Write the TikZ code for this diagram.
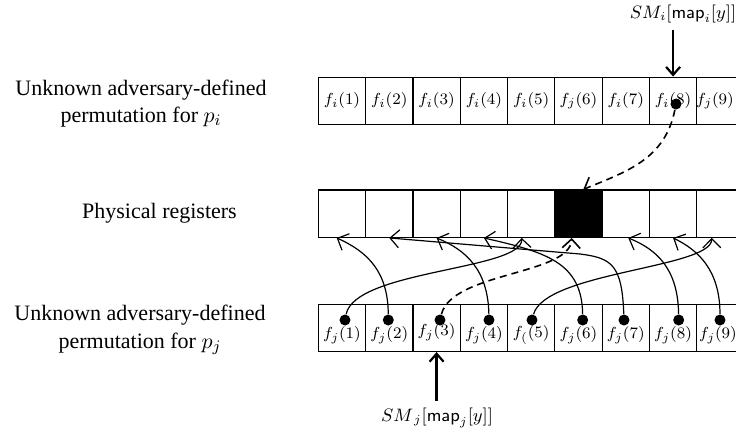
\documentclass[tikz,border=0pt]{standalone}
\usepackage[no-math]{fontspec}
\setmainfont{Liberation Serif}
\usetikzlibrary{arrows.meta}

\begin{document}
\begin{tikzpicture}[x=0.5pt,y=-0.5pt,
  cell/.style={draw,semithick,minimum width=23.65pt,minimum height=23.65pt,inner sep=0pt},
  entry/.style={font=\footnotesize,inner sep=1pt},
  dot/.style={circle,fill=black,inner sep=0pt,minimum size=5.5pt},
  link/.style={-{Straight Barb[length=4.5pt,width=9pt]},line width=0.6pt},
  hidden/.style={link,line width=0.8pt,dash pattern=on 3.5pt off 2.5pt},
  pointer/.style={-{Straight Barb[length=4pt,width=7pt]},line width=1.1pt},
  side/.style={align=center,font=\fontsize{11}{13.6}\selectfont}]
% define variables
\pgfmathparse{47.3}\let\w=\pgfmathresult
\useasboundingbox (0,0) rectangle (736,434);

% text on the left
\node[side] (permi) at (141,103.3) {Unknown adversary-defined\\ permutation for $p_i$};
\node[side] (phys) at (159.5,213.3) {Physical registers};
\node[side] (permj) at (140,330) {Unknown adversary-defined\\ permutation for $p_j$};

% draw the three rows
\foreach \i in {1,...,9}{
	\node[cell] (top\i) at ({342+\w*(\i-1)},100.8) {};
	\node[cell] (reg\i) at ({342+\w*(\i-1)},213.7) {};
	\node[cell] (bot\i) at ({342+\w*(\i-1)},327.8) {};
}
\fill (reg6.north west) rectangle (reg6.south east);

% labels of the upper row
\foreach \i/\s in {1/i,2/i,3/i,4/i,5/i,6/j,7/i,8/i}{
	\node[entry] (ltop\i) at ({342+\w*(\i-1)},100.8) {$f_\s(\i)$};
}
\node[entry] (ltop9) at (715,100.8) {$f_j(9)$};

% labels of the lower row
\foreach \i in {1,2,4,6,7,8}{
	\node[entry] (lab\i) at ({342+\w*(\i-1)},335) {$f_j(\i)$};
}
\node[entry] (lab3) at (436.6,332.3) {$f_j(3)$};
\node[entry] (lab5) at (531.2,335) {$f_{(}(5)$};
\node[entry] (lab9) at (718,335) {$f_j(9)$};

% dots
\foreach \i/\x in {1/345,2/388.3,3/440,4/489,5/532,6/582.7,7/624,8/678.7,9/720}{
	\node[dot] (d\i) at (\x,320) {};
}
\node[dot] (di8) at (676,104) {};

% pointers from the slot maps
\node[font=\small] (smi) at (683,14) {$SM_i[\textsf{map}_i[y]]$};
\node[font=\small] (smj) at (437,418) {$SM_{\,j}[\textsf{map}_j[y]]$};
\draw[pointer] (smi.south -| top8) -- (top8.north);
\draw[pointer] (smj.north -| bot3) -- (bot3.south);

% permutation links
\draw[hidden] (di8) .. controls (665,160) and (625,172) .. ([xshift=2.4pt]reg6.north);
\draw[link] (d1) .. controls (355,270) and (523,270) .. ([xshift=-4.75pt]reg5.south);
\draw[link] (d2) .. controls (388,272) and (368,252) .. ([xshift=-2.65pt]reg1.south);
\draw[hidden] (d3) .. controls (452,272) and (570,275) .. ([xshift=-3.4pt]reg6.south);
\draw[link] (d4) .. controls (488,270) and (466,250) .. (reg3.south);
\draw[link] (d5) .. controls (545,272) and (712,268) .. ([xshift=-4.35pt]reg9.south);
\draw[link] (d6) .. controls (582,262) and (545,252) .. (reg4.south);
\draw[link] (d7) .. controls (622,265) and (612,258) .. (580,254) -- (reg2.south);
\draw[link] (d8) .. controls (678,270) and (658,250) .. ([xshift=1.25pt]reg7.south);
\draw[link] (d9) .. controls (720,270) and (698,250) .. (reg8.south);
\end{tikzpicture}
\end{document}
